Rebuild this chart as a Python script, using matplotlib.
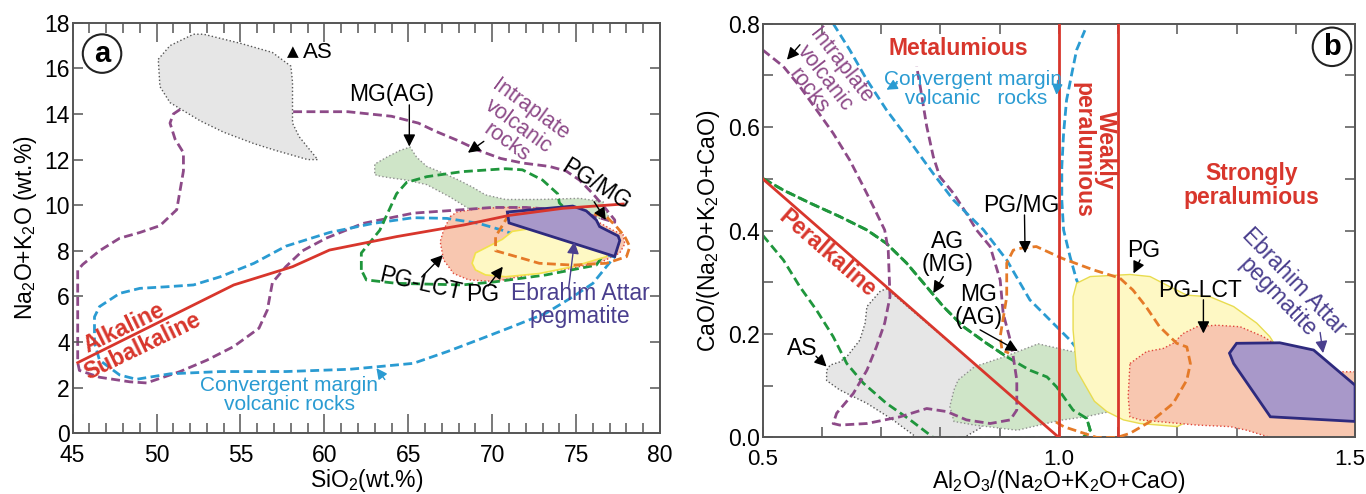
import numpy as np
import matplotlib
matplotlib.use('Agg')
import matplotlib.pyplot as plt
import matplotlib.transforms as mtransforms
from matplotlib.patches import Polygon
from matplotlib.ticker import MultipleLocator, FixedLocator

plt.rcParams['font.family'] = ['Liberation Sans', 'DejaVu Sans']
plt.rcParams['mathtext.fontset'] = 'custom'
plt.rcParams['mathtext.rm'] = 'Liberation Sans'
plt.rcParams['mathtext.it'] = 'Liberation Sans:italic'
plt.rcParams['mathtext.bf'] = 'Liberation Sans:bold'

# ---------------- panel a : TAS (SiO2 vs Na2O+K2O) ----------------
a_as_x = [50.1, 50.8, 52.2, 52.8, 55.0, 56.9, 58.0, 58.1, 58.1, 58.1, 58.5, 59.6, 59.0, 57.1, 55.8, 54.0, 52.6, 50.8, 50.2]
a_as_y = [16.4, 17.0, 17.5, 17.5, 17.1, 16.7, 16.1, 15.4, 14.2, 13.6, 13.0, 12.0, 12.0, 12.4, 12.7, 13.2, 13.7, 14.5, 15.2]

a_mg_x = [63.0, 63.0, 63.7, 64.5, 65.1, 65.5, 66.1, 67.1, 68.0, 68.8, 69.6, 70.8, 72.8, 75.2, 76.6, 77.0, 72.8, 68.7, 67.5, 66.1, 64.9, 63.9, 63.1]
a_mg_y = [11.4, 11.8, 12.1, 12.4, 12.55, 12.1, 11.7, 11.4, 11.1, 10.8, 10.45, 10.25, 10.25, 10.3, 10.15, 9.35, 9.8, 9.8, 10.35, 10.9, 11.1, 11.2, 11.3]

a_lct_x = [67.5, 67.9, 69.2, 70.6, 72.0, 75.0, 77.2, 77.8, 77.9, 77.6, 76.5, 74.5, 72.8, 70.2, 68.6, 67.7, 67.1, 66.9, 67.1]
a_lct_y = [9.5, 9.7, 9.85, 9.9, 9.9, 9.8, 8.9, 8.7, 8.3, 7.9, 7.5, 7.2, 7.05, 6.65, 6.72, 7.0, 7.6, 8.4, 8.9]

a_pg_x = [68.8, 69.0, 69.8, 70.6, 71.2, 72.5, 75.0, 77.0, 76.8, 74.8, 72.8, 70.8, 69.6, 69.0]
a_pg_y = [7.45, 7.9, 8.2, 8.5, 8.85, 9.0, 8.6, 8.0, 7.74, 7.3, 7.0, 6.86, 6.94, 7.16]

a_ea_x = [70.9, 74.8, 75.6, 76.2, 76.4, 77.5, 77.6, 77.3, 71.0]
a_ea_y = [9.7, 9.96, 9.75, 9.35, 9.06, 8.65, 8.45, 7.75, 9.22]

a_intra_x = [51.4, 51.0, 50.8, 51.1, 51.6, 51.6, 51.2, 50.2, 49.0, 47.8, 46.6, 45.6, 45.3, 45.3, 45.3, 45.4, 46.6, 48.4, 49.4,
             50.4, 51.4, 53.0, 54.6, 56.1, 56.6, 56.9, 57.7, 58.7, 60.1, 62.3, 65.3, 68.2, 70.0, 72.0, 75.0, 77.3,
             77.3, 76.7, 76.0, 75.2, 74.4, 73.4, 71.8, 70.5, 69.2, 67.9, 66.6, 65.6, 64.0, 61.4, 58.3, 58.1]
a_intra_y = [14.2, 14.0, 13.6, 12.9, 12.3, 11.5, 9.8, 9.1, 8.8, 8.55, 8.0, 7.4, 7.15, 5.7, 3.1, 2.75, 2.45, 2.25, 2.2,
             2.45, 2.7, 3.2, 3.8, 4.6, 5.4, 6.6, 7.3, 8.0, 8.55, 9.2, 9.65, 9.8, 9.9, 9.9, 9.75, 9.25,
             9.35, 9.9, 10.5, 11.1, 11.5, 11.7, 11.85, 12.05, 12.4, 12.85, 13.25, 13.6, 13.9, 14.1, 14.1, 14.1]

a_conv_x = [71.4, 70.6, 69.2, 67.3, 65.3, 62.9, 60.3, 57.7, 55.8, 53.8, 52.2, 50.6, 49.0, 47.8, 46.6, 46.3, 46.3, 46.6, 47.8,
            48.8, 50.8, 53.8, 57.7, 61.5, 63.0, 65.3, 67.3, 69.2, 71.2, 73.2, 74.8, 76.0, 76.8, 77.3, 74.5, 71.4]
a_conv_y = [8.7, 8.9, 9.2, 9.42, 9.45, 9.2, 8.8, 8.2, 7.45, 6.86, 6.5, 6.42, 6.35, 6.13, 5.55, 5.1, 3.95, 3.2, 2.55,
            2.36, 2.6, 2.7, 2.7, 2.8, 2.9, 3.06, 3.57, 4.1, 4.67, 5.26, 5.98, 6.57, 7.3, 7.74, 8.2, 8.7]

a_green_x = [62.2, 62.2, 63.3, 64.3, 64.9, 66.1, 68.2, 70.8, 71.8, 73.0, 73.9, 74.0, 75.5, 76.8, 76.2, 73.2, 70.2, 68.2, 64.3, 62.5, 62.2]
a_green_y = [7.16, 7.9, 8.9, 10.5, 11.0, 11.25, 11.47, 11.6, 11.55, 11.1, 10.5, 10.1, 9.0, 8.0, 7.37, 6.94, 6.64, 6.5, 6.57, 6.72, 7.16]

a_orange_x = [71.0, 70.8, 70.2, 70.2, 71.3, 72.8, 74.8, 76.8, 78.0, 78.2, 77.9, 77.4, 76.8, 75.5, 73.0, 71.0]
a_orange_y = [9.6, 9.35, 8.62, 8.0, 7.77, 7.45, 7.37, 7.45, 7.74, 8.18, 8.62, 9.06, 9.5, 9.7, 9.8, 9.6]

a_alk_x = [45.3, 49.8, 54.6, 58.1, 60.3, 64.3, 68.3, 71.0, 74.2, 77.8]
a_alk_y = [3.09, 4.74, 6.5, 7.3, 8.03, 8.62, 9.13, 9.55, 9.86, 10.05]

# ---------------- panel b : Shand (A/NKC vs CaO/(Na2O+K2O+CaO)) ----------------
b_as_x = [0.709, 0.87, 0.87, 0.84, 0.76, 0.72, 0.676, 0.63, 0.608, 0.608, 0.614, 0.63, 0.642, 0.664, 0.673, 0.676, 0.698]
b_as_y = [0.288, 0.13, 0.02, 0.0, 0.0, 0.034, 0.066, 0.092, 0.11, 0.13, 0.14, 0.146, 0.156, 0.188, 0.221, 0.253, 0.282]

b_mg_x = [0.823, 0.83, 0.858, 0.908, 0.965, 1.023, 1.122, 1.118, 1.143, 1.086, 1.045, 1.001, 0.93, 0.858, 0.823, 0.816]
b_mg_y = [0.092, 0.111, 0.137, 0.156, 0.181, 0.166, 0.166, 0.117, 0.066, 0.05, 0.04, 0.033, 0.014, 0.024, 0.031, 0.06]

b_pg_x = [1.03, 1.053, 1.12, 1.154, 1.188, 1.216, 1.255, 1.295, 1.334, 1.356, 1.37, 1.3, 1.2, 1.137, 1.109, 1.081, 1.06, 1.03, 1.024, 1.024]
b_pg_y = [0.298, 0.311, 0.315, 0.311, 0.291, 0.275, 0.272, 0.253, 0.221, 0.195, 0.17, 0.08, 0.021, 0.027, 0.034, 0.05, 0.07, 0.13, 0.208, 0.272]

b_lct_x = [1.12, 1.148, 1.176, 1.193, 1.21, 1.233, 1.266, 1.306, 1.345, 1.38, 1.44, 1.5, 1.5, 1.357, 1.317, 1.289, 1.233, 1.137, 1.12, 1.117]
b_lct_y = [0.143, 0.166, 0.172, 0.182, 0.201, 0.214, 0.217, 0.214, 0.195, 0.17, 0.127, 0.127, 0.0, 0.0, 0.014, 0.021, 0.024, 0.034, 0.04, 0.079]

b_ea_x = [1.288, 1.30, 1.373, 1.43, 1.5, 1.5, 1.357, 1.295]
b_ea_y = [0.163, 0.182, 0.183, 0.169, 0.101, 0.031, 0.04, 0.143]

b_intra_x = [0.5, 0.535, 0.563, 0.591, 0.619, 0.647, 0.67, 0.687, 0.706, 0.712, 0.715, 0.706, 0.692, 0.676, 0.653, 0.625, 0.619, 0.63,
             0.676, 0.732, 0.777, 0.811, 0.844, 0.884, 0.918, 0.929, 0.929, 0.923, 0.918, 0.906, 0.901, 0.884, 0.861,
             0.844, 0.822, 0.799, 0.788, 0.777, 0.766, 0.76]
b_intra_y = [0.749, 0.717, 0.678, 0.633, 0.588, 0.536, 0.485, 0.446, 0.401, 0.362, 0.272, 0.221, 0.175, 0.13, 0.085, 0.047, 0.027, 0.024,
             0.027, 0.04, 0.056, 0.05, 0.034, 0.027, 0.034, 0.053, 0.111, 0.156, 0.188, 0.24, 0.304, 0.369, 0.401,
             0.433, 0.472, 0.504, 0.543, 0.601, 0.678, 0.717]

b_conv_x = [0.619, 0.647, 0.676, 0.709, 0.743, 0.788, 0.822, 0.85, 0.873, 0.912, 0.951, 0.985, 1.019, 1.041, 1.053, 1.064,
            1.067, 1.064, 1.047, 1.03, 1.019, 1.008, 1.005, 1.005, 1.008, 1.013, 1.022, 1.03, 1.044]
b_conv_y = [0.8, 0.749, 0.691, 0.633, 0.581, 0.51, 0.459, 0.427, 0.401, 0.343, 0.266, 0.227, 0.188, 0.156, 0.137, 0.14,
            0.163, 0.227, 0.266, 0.304, 0.349, 0.401, 0.459, 0.523, 0.588, 0.652, 0.704, 0.749, 0.787]

b_green_x = [0.5, 0.535, 0.563, 0.591, 0.619, 0.642, 0.67, 0.709, 0.749, 0.788, 1.041, 1.053, 1.047, 1.024, 0.996, 0.98, 0.951,
             0.912, 0.878, 0.839, 0.805, 0.777, 0.743, 0.709, 0.676, 0.63, 0.58, 0.535, 0.5]
b_green_y = [0.391, 0.343, 0.291, 0.246, 0.195, 0.143, 0.105, 0.066, 0.034, 0.0, 0.0, 0.014, 0.037, 0.053, 0.098, 0.117, 0.13,
             0.156, 0.182, 0.214, 0.253, 0.291, 0.337, 0.375, 0.401, 0.427, 0.453, 0.478, 0.501]

b_orange_x = [0.995, 1.008, 1.064, 1.098, 1.12, 1.159, 1.193, 1.216, 1.222, 1.216, 1.199, 1.17, 1.147, 1.125, 1.103, 1.058,
              1.006, 0.962, 0.937, 0.923, 0.912, 0.912, 0.901, 0.904, 0.916]
b_orange_y = [0.03, 0.021, 0.0, 0.0, 0.008, 0.034, 0.066, 0.111, 0.143, 0.175, 0.182, 0.214, 0.253, 0.285, 0.308, 0.324,
              0.346, 0.369, 0.366, 0.362, 0.337, 0.272, 0.195, 0.169, 0.163]

b_peralk_x = [0.5, 1.0]
b_peralk_y = [0.5, 0.0]
b_vlines = [1.0, 1.1]

RED = '#d8362c'
PURP = '#8d4a88'
BLUE = '#2a9bd2'
GREEN = '#1f963c'
ORANGE = '#e57a28'
EA = '#4a3f8e'
DASH = (0, (3.2, 1.6))


def fill(ax, xs, ys, fc, ec, ls, lw, z):
    ax.add_patch(Polygon(np.column_stack([xs, ys]), closed=True, fc=fc, ec=ec, ls=ls, lw=lw, zorder=z))


def arrow(ax, xy_from, xy_to, color='k', lw=1.0, ms=18):
    ax.annotate('', xy=xy_to, xytext=xy_from,
                arrowprops=dict(arrowstyle='-|>', color=color, lw=lw, mutation_scale=ms, shrinkA=0, shrinkB=0),
                zorder=8)


fig = plt.figure(figsize=(13.66, 4.94), dpi=100)
axa = fig.add_axes([0.0532, 0.1233, 0.4300, 0.8305])
axb = fig.add_axes([0.5583, 0.1144, 0.4337, 0.8380])

# ---- panel a ----
ax = axa
fill(ax, a_as_x, a_as_y, '#e6e6e6', '#555555', ':', 1.0, 1.5)
fill(ax, a_mg_x, a_mg_y, '#cfe5c8', '#8f8f8f', ':', 1.0, 1)
fill(ax, a_lct_x, a_lct_y, '#f8c7b0', '#e0473a', ':', 1.0, 1.2)
ax.plot(a_intra_x, a_intra_y, color=PURP, lw=2, ls=DASH, zorder=1.4)
ax.plot(a_conv_x, a_conv_y, color=BLUE, lw=2, ls=DASH, zorder=2)
ax.plot(a_green_x, a_green_y, color=GREEN, lw=2, ls=DASH, zorder=2)
fill(ax, a_pg_x, a_pg_y, '#fef8c4', '#f2e24c', '-', 1.2, 2.5)
ax.plot(a_orange_x, a_orange_y, color=ORANGE, lw=2, ls=DASH, zorder=2.7)
fill(ax, a_ea_x, a_ea_y, '#a898c9', '#2e2a7e', '-', 2.0, 3)
ax.plot(a_alk_x, a_alk_y, color=RED, lw=2, zorder=4)

ax.set_xlim(45, 80)
ax.set_ylim(0, 18)
ax.xaxis.set_major_locator(MultipleLocator(5))
ax.xaxis.set_minor_locator(MultipleLocator(1))
ax.yaxis.set_major_locator(MultipleLocator(2))
ax.tick_params(axis='x', which='major', direction='in', top=True, length=14, width=1.1, color='#555555', labelsize=16.5, pad=8)
ax.tick_params(axis='x', which='minor', direction='in', top=True, length=7, width=1.1, color='#555555')
ax.tick_params(axis='y', which='major', direction='in', right=True, length=7, width=1.1, color='#555555', labelsize=16.5, pad=2)
ax.set_xlabel(r'SiO$_2$(wt.%)', fontsize=16.5, labelpad=0)
ax.set_ylabel(r'Na$_2$O+K$_2$O (wt.%)', fontsize=16.5, labelpad=4)
for s in ax.spines.values():
    s.set_color('#555555')
    s.set_linewidth(1.4)

ax.text(46.75, 16.65, 'a', fontsize=21, fontweight='bold', ha='center', va='center', zorder=9,
        bbox=dict(boxstyle='circle,pad=0.18', fc='white', ec='#222222', lw=1.5))
ax.text(58.1, 16.75, '\u25B2', fontsize=11, ha='center', va='center', family=['DejaVu Sans'], zorder=9)
ax.text(59.6, 16.7, 'AS', fontsize=16, ha='center', va='center', zorder=9)
ax.text(64.0, 14.85, 'MG(AG)', fontsize=16.5, ha='center', va='center', zorder=9)
arrow(ax, (65.06, 14.4), (65.06, 12.57))
ax.text(71.55, 13.45, 'Intraplate\nvolcanic\nrocks', fontsize=15.5, color=PURP, ha='center', va='center',
        rotation=-36, rotation_mode='anchor', linespacing=0.95, zorder=9)
arrow(ax, (69.5, 12.8), (68.55, 12.3))
ax.text(76.2, 10.9, 'PG/MG', fontsize=16.5, ha='center', va='center', rotation=-32, zorder=9)
arrow(ax, (76.07, 10.15), (76.77, 9.35))
ax.text(65.7, 6.55, 'PG-LCT', fontsize=16.5, ha='center', va='center', rotation=-13, zorder=9)
arrow(ax, (65.8, 6.85), (67.06, 7.81))
ax.text(69.45, 6.1, 'PG', fontsize=16.5, ha='center', va='center', zorder=9)
arrow(ax, (69.75, 6.45), (70.63, 7.3))
ax.text(75.25, 5.62, 'Ebrahim Attar\npegmatite', fontsize=16.5, color=EA, ha='center', va='center',
        linespacing=1.0, zorder=9)
arrow(ax, (74.55, 6.35), (74.9, 8.4), color=EA)
ax.text(48.05, 4.6, 'Alkaline', fontsize=16.5, fontweight='bold', color=RED, ha='center', va='center',
        rotation=26, zorder=9)
ax.text(49.15, 3.82, 'Subalkaline', fontsize=16.5, fontweight='bold', color=RED, ha='center', va='center',
        rotation=26, zorder=9)
ax.text(57.9, 1.65, 'Convergent margin\nvolcanic rocks', fontsize=15, color=BLUE, ha='center', va='center',
        linespacing=1.0, zorder=9)
arrow(ax, (63.6, 2.35), (63.1, 2.85), color=BLUE, ms=16)

# ---- panel b ----
ax = axb
fill(ax, b_as_x, b_as_y, '#e6e6e6', '#555555', ':', 1.0, 1)
ax.plot(b_green_x, b_green_y, color=GREEN, lw=2, ls=DASH, zorder=1.5)
fill(ax, b_mg_x, b_mg_y, '#cfe5c8', '#8f8f8f', ':', 1.0, 1.6)
ax.plot(b_intra_x, b_intra_y, color=PURP, lw=2, ls=DASH, zorder=2)
ax.plot(b_conv_x, b_conv_y, color=BLUE, lw=2, ls=DASH, zorder=2)
fill(ax, b_pg_x, b_pg_y, '#fef8c4', '#e8dc50', '-', 1.0, 2.2)
fill(ax, b_lct_x, b_lct_y, '#f8c7b0', '#e0473a', ':', 1.0, 2.4)
ax.plot(b_orange_x, b_orange_y, color=ORANGE, lw=2, ls=DASH, zorder=2.7)
fill(ax, b_ea_x, b_ea_y, '#a898c9', '#2e2a7e', '-', 2.0, 3)
ax.plot(b_peralk_x, b_peralk_y, color=RED, lw=2, zorder=4)
for v in b_vlines:
    ax.axvline(v, color=RED, lw=2, zorder=4)
# green dashed outline shows over the green field as well
ax.plot(b_green_x[9:], b_green_y[9:], color=GREEN, lw=2, ls=DASH, zorder=1.7)

ax.set_xlim(0.5, 1.5)
ax.set_ylim(0, 0.8)
ax.xaxis.set_major_locator(FixedLocator([0.5, 1.0, 1.5]))
ax.xaxis.set_minor_locator(MultipleLocator(0.1))
ax.yaxis.set_major_locator(MultipleLocator(0.2))
ax.yaxis.set_minor_locator(MultipleLocator(0.1))
ax.xaxis.set_major_formatter(matplotlib.ticker.FormatStrFormatter('%.1f'))
ax.yaxis.set_major_formatter(matplotlib.ticker.FormatStrFormatter('%.1f'))
ax.tick_params(axis='x', which='both', direction='in', top=True, length=7, width=1.1, color='#555555', labelsize=16, pad=8)
ax.tick_params(axis='y', which='both', direction='in', right=True, length=7, width=1.1, color='#555555', labelsize=16.5, pad=2)
ax.set_xlabel(r'Al$_2$O$_3$/(Na$_2$O+K$_2$O+CaO)', fontsize=16.5, labelpad=-1)
ax.set_ylabel(r'CaO/(Na$_2$O+K$_2$O+CaO)', fontsize=16.5, labelpad=4)
for s in ax.spines.values():
    s.set_color('#555555')
    s.set_linewidth(1.4)
# nudge the last x label a little left so it stays inside the figure
fig.canvas.draw()
last = ax.get_xticklabels()[-1]
last.set_transform(last.get_transform() + mtransforms.ScaledTranslation(-4 / 72, 0, fig.dpi_scale_trans))

ax.text(1.461, 0.755, 'b', fontsize=21, fontweight='bold', ha='center', va='center', zorder=9,
        bbox=dict(boxstyle='circle,pad=0.18', fc='white', ec='#222222', lw=1.5))
ax.text(0.83, 0.752, 'Metalumious', fontsize=16.5, fontweight='bold', color=RED, ha='center', va='center', zorder=9)
ax.text(0.855, 0.673, 'Convergent margin\n volcanic   rocks', fontsize=15, color=BLUE, ha='center', va='center',
        linespacing=1.0, zorder=9)
arrow(ax, (0.727, 0.684), (0.709, 0.672), color=BLUE, ms=16)
arrow(ax, (0.998, 0.69), (0.996, 0.662), color=BLUE, ms=16)
ax.text(0.605, 0.694, 'Intraplate\nvolcanic\nrocks', fontsize=15.5, color=PURP, ha='center', va='center',
        rotation=-52, linespacing=0.95, zorder=9)
arrow(ax, (0.563, 0.759), (0.541, 0.73))
ax.text(1.06, 0.555, 'Weakly\nperalumious', fontsize=16.5, fontweight='bold', color=RED, ha='center', va='center',
        rotation=-90, linespacing=1.0, zorder=9)
ax.text(1.325, 0.487, 'Strongly\nperalumious', fontsize=16.5, fontweight='bold', color=RED, ha='center', va='center',
        linespacing=1.05, zorder=9)
ax.text(0.609, 0.356, 'Peralkaline', fontsize=16.5, fontweight='bold', color=RED, ha='center', va='center',
        rotation=-41, zorder=9)
ax.text(0.936, 0.449, 'PG/MG', fontsize=16.5, ha='center', va='center', zorder=9)
arrow(ax, (0.942, 0.43), (0.943, 0.356))
ax.text(0.812, 0.357, 'AG\n(MG)', fontsize=16.5, ha='center', va='center', linespacing=1.0, zorder=9)
arrow(ax, (0.805, 0.311), (0.788, 0.279))
ax.text(0.864, 0.255, 'MG\n(AG)', fontsize=16.5, ha='center', va='center', linespacing=1.0, zorder=9)
arrow(ax, (0.867, 0.208), (0.931, 0.167))
ax.text(0.566, 0.172, 'AS', fontsize=16.5, ha='center', va='center', zorder=9)
arrow(ax, (0.59, 0.157), (0.608, 0.137))
ax.text(1.143, 0.362, 'PG', fontsize=16.5, ha='center', va='center', zorder=9)
arrow(ax, (1.137, 0.343), (1.126, 0.317))
ax.text(1.238, 0.285, 'PG-LCT', fontsize=16.5, ha='center', va='center', zorder=9)
arrow(ax, (1.244, 0.266), (1.244, 0.201))
ax.text(1.383, 0.287, 'Ebrahim Attar\npegmatite', fontsize=16.5, color=EA, ha='center', va='center',
        rotation=-46, linespacing=1.0, zorder=9)
arrow(ax, (1.441, 0.203), (1.446, 0.163), color=EA)

plt.savefig('out.png', dpi=100)
